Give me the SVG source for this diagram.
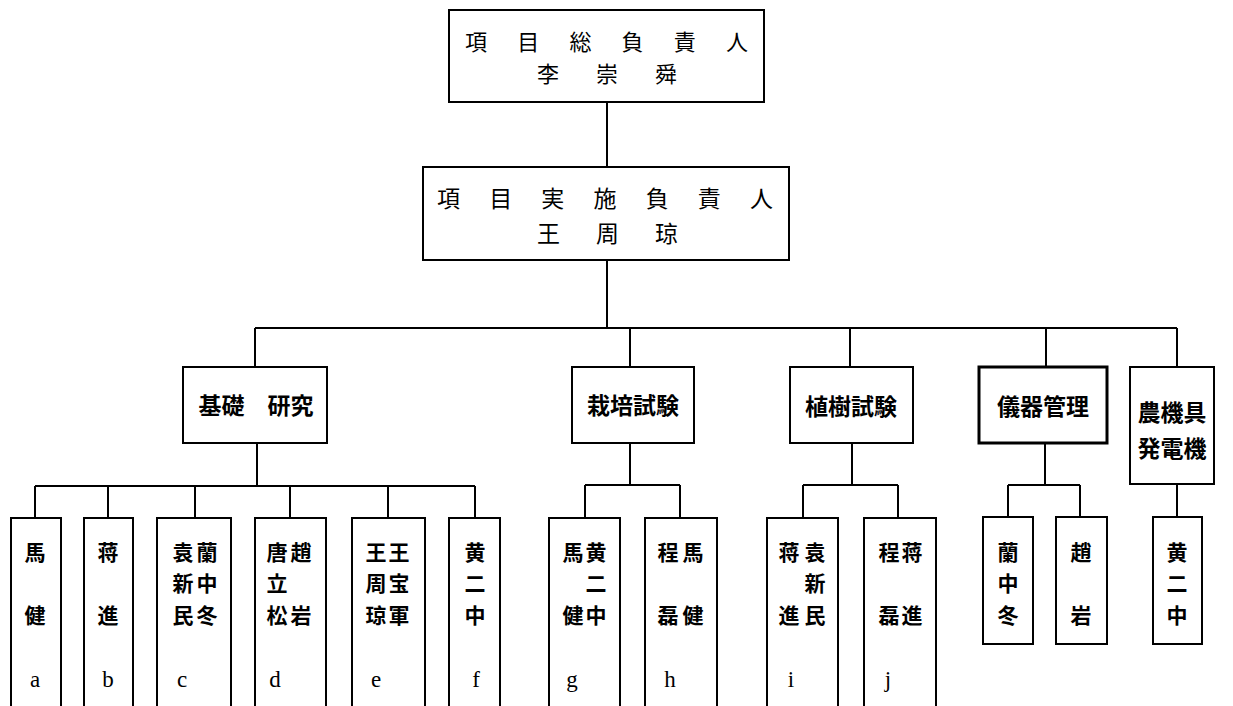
<svg xmlns="http://www.w3.org/2000/svg" width="1233" height="706" viewBox="0 0 1233 706">
<style>
.bg{fill:#fff}
.box{fill:#fff;stroke:#000;stroke-width:2}
.leaf{fill:none;stroke:#000;stroke-width:2}
.ln{fill:none;stroke:#000;stroke-width:2}
.tt{font-family:"Noto Sans CJK JP","Noto Sans CJK SC",sans-serif;font-size:22px;fill:#000}
.t2{font-size:23px}
.mt{font-family:"Noto Sans CJK JP","Noto Sans CJK SC",sans-serif;font-size:23px;font-weight:bold;fill:#000;text-anchor:middle}
.lt{font-family:"Noto Sans CJK JP","Noto Sans CJK SC",sans-serif;font-size:21px;font-weight:bold;fill:#000;text-anchor:middle}
.lc{font-family:"Liberation Serif",serif;font-size:23px;fill:#000;text-anchor:middle}
</style>
<rect class="bg" x="0" y="0" width="1233" height="706"/>
<g id="connectors">
<path class="ln" d="M607,102V167M607,260V328M255,328H1177M255,328V367M630,328V367M850,328V367M1046,328V367M1177,328V367"/>
<path class="ln" d="M257,443V486M35,486H475M35,486V518M108,486V518M195,486V518M290,486V518M388,486V518M475,486V518"/>
<path class="ln" d="M630,443V485M585,485H680M585,485V518M680,485V518"/>
<path class="ln" d="M852,443V485M803,485H898M803,485V518M898,485V518"/>
<path class="ln" d="M1045,443V485M1008,485H1080M1008,485V517M1080,485V517"/>
<path class="ln" d="M1177,484V517"/>
</g>
<g id="n-top">
<rect class="box" x="449" y="10" width="315" height="92"/>
<text class="tt" x="465" y="50" textLength="283" lengthAdjust="spacing">項目総負責人</text>
<text class="tt" x="537" y="82" textLength="140" lengthAdjust="spacing">李崇舜</text>
</g>
<g id="n-exec">
<rect class="box" x="423" y="167" width="366" height="93"/>
<text class="tt t2" x="437" y="207" textLength="336" lengthAdjust="spacing">項目実施負責人</text>
<text class="tt t2" x="537" y="242" textLength="141" lengthAdjust="spacing">王周琼</text>
</g>
<g id="n-basic">
<rect class="box" x="183" y="367" width="144" height="76"/>
<text class="mt" x="256" y="414">基礎　研究</text>
</g>
<g id="n-cult">
<rect class="box" x="572" y="367" width="122" height="76"/>
<text class="mt" x="633" y="414">栽培試験</text>
</g>
<g id="n-plant">
<rect class="box" x="790" y="367" width="123" height="76"/>
<text class="mt" x="851" y="415">植樹試験</text>
</g>
<g id="n-instr">
<rect class="box" x="979" y="367" width="128" height="76" style="stroke-width:3"/>
<text class="mt" x="1043" y="415">儀器管理</text>
</g>
<g id="n-mach">
<rect class="box" x="1130" y="367" width="84" height="117"/>
<text class="mt" x="1172" y="421">農機具</text>
<text class="mt" x="1172" y="457">発電機</text>
</g>
<g id="leaf-a">
<path class="leaf" d="M11,706V518H61V706"/>
<text class="lt" x="35" y="560">馬</text>
<text class="lt" x="35" y="623">健</text>
<text class="lc" x="35" y="687">a</text>
</g>
<g id="leaf-b">
<path class="leaf" d="M84,706V518H133V706"/>
<text class="lt" x="108" y="560">蒋</text>
<text class="lt" x="108" y="623">進</text>
<text class="lc" x="108" y="687">b</text>
</g>
<g id="leaf-c">
<path class="leaf" d="M157,706V518H231V706"/>
<text class="lt" x="183" y="560">袁</text><text class="lt" x="207" y="560">蘭</text>
<text class="lt" x="183" y="591">新</text><text class="lt" x="207" y="591">中</text>
<text class="lt" x="183" y="623">民</text><text class="lt" x="207" y="623">冬</text>
<text class="lc" x="182" y="687">c</text>
</g>
<g id="leaf-d">
<path class="leaf" d="M255,706V518H326V706"/>
<text class="lt" x="277" y="560">唐</text><text class="lt" x="301" y="560">趙</text>
<text class="lt" x="277" y="591">立</text>
<text class="lt" x="277" y="623">松</text><text class="lt" x="301" y="623">岩</text>
<text class="lc" x="275" y="687">d</text>
</g>
<g id="leaf-e">
<path class="leaf" d="M352,706V518H425V706"/>
<text class="lt" x="376" y="560">王</text><text class="lt" x="399" y="560">王</text>
<text class="lt" x="376" y="591">周</text><text class="lt" x="399" y="591">宝</text>
<text class="lt" x="376" y="623">琼</text><text class="lt" x="399" y="623">軍</text>
<text class="lc" x="376" y="687">e</text>
</g>
<g id="leaf-f">
<path class="leaf" d="M449,706V518H500V706"/>
<text class="lt" x="475" y="560">黄</text>
<text class="lt" x="475" y="591">二</text>
<text class="lt" x="475" y="623">中</text>
<text class="lc" x="476" y="687">f</text>
</g>
<g id="leaf-g">
<path class="leaf" d="M549,706V518H620V706"/>
<text class="lt" x="573" y="560">馬</text><text class="lt" x="596" y="560">黄</text>
<text class="lt" x="596" y="591">二</text>
<text class="lt" x="573" y="623">健</text><text class="lt" x="596" y="623">中</text>
<text class="lc" x="572" y="687">g</text>
</g>
<g id="leaf-h">
<path class="leaf" d="M645,706V518H717V706"/>
<text class="lt" x="668" y="560">程</text><text class="lt" x="693" y="560">馬</text>
<text class="lt" x="668" y="623">磊</text><text class="lt" x="693" y="623">健</text>
<text class="lc" x="670" y="687">h</text>
</g>
<g id="leaf-i">
<path class="leaf" d="M767,706V518H838V706"/>
<text class="lt" x="789" y="560">蒋</text><text class="lt" x="815" y="560">袁</text>
<text class="lt" x="815" y="591">新</text>
<text class="lt" x="789" y="623">進</text><text class="lt" x="815" y="623">民</text>
<text class="lc" x="791" y="687">i</text>
</g>
<g id="leaf-j">
<path class="leaf" d="M864,706V518H936V706"/>
<text class="lt" x="889" y="560">程</text><text class="lt" x="912" y="560">蒋</text>
<text class="lt" x="889" y="623">磊</text><text class="lt" x="912" y="623">進</text>
<text class="lc" x="888" y="687">j</text>
</g>
<g id="leaf-lan">
<rect class="box" x="983" y="517" width="50" height="127"/>
<text class="lt" x="1008" y="560">蘭</text>
<text class="lt" x="1008" y="591">中</text>
<text class="lt" x="1008" y="623">冬</text>
</g>
<g id="leaf-zhao">
<rect class="box" x="1056" y="517" width="51" height="127"/>
<text class="lt" x="1081" y="560">趙</text>
<text class="lt" x="1081" y="623">岩</text>
</g>
<g id="leaf-huang">
<rect class="box" x="1153" y="517" width="49" height="127"/>
<text class="lt" x="1177" y="560">黄</text>
<text class="lt" x="1177" y="591">二</text>
<text class="lt" x="1177" y="623">中</text>
</g>
</svg>
